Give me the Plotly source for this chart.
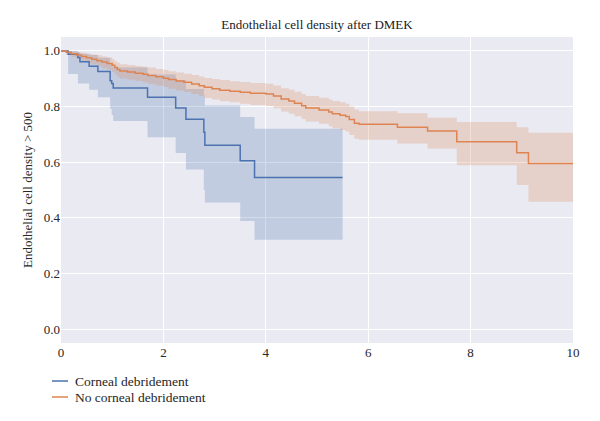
import plotly.graph_objects as go

# ---- data ----
times_b = [0.0, 0.14, 0.33, 0.37, 0.55, 0.72, 0.96, 0.99, 1.02, 1.69, 2.24, 2.44, 2.79, 2.81, 3.50, 3.78]
surv_b = [1.0, 0.988, 0.976, 0.961, 0.945, 0.926, 0.893, 0.883, 0.867, 0.833, 0.795, 0.754, 0.708, 0.661, 0.605, 0.545]
lower_b = [1.0, 0.917, 0.883, 0.883, 0.86, 0.833, 0.792, 0.77, 0.748, 0.69, 0.633, 0.574, 0.50, 0.455, 0.389, 0.321]
upper_b = [1.0, 1.0, 0.995, 0.99, 0.985, 0.975, 0.955, 0.95, 0.94, 0.915, 0.895, 0.863, 0.84, 0.804, 0.762, 0.72]
end_b = 5.5

times_o = [0.0, 0.1, 0.2, 0.3, 0.4, 0.5, 0.6, 0.7, 0.8, 0.9, 1.0, 1.05, 1.1, 1.15, 1.3, 1.45, 1.6, 1.7, 1.85,
           2.0, 2.1, 2.25, 2.4, 2.55, 2.7, 2.8, 2.95, 3.1, 3.3, 3.5, 3.7, 4.0, 4.15, 4.3, 4.45, 4.56, 4.7, 4.78,
           5.04, 5.23, 5.3, 5.45, 5.56, 5.63, 5.73, 5.82, 6.57, 7.16, 7.73, 8.9, 9.13]
surv_o = [1.0, 0.995, 0.99, 0.985, 0.98, 0.975, 0.97, 0.965, 0.96, 0.955, 0.948, 0.94, 0.933, 0.928, 0.924,
          0.92, 0.916, 0.912, 0.907, 0.902, 0.897, 0.892, 0.887, 0.881, 0.875, 0.869, 0.864, 0.859, 0.855,
          0.851, 0.848, 0.845, 0.838, 0.827, 0.82, 0.812, 0.803, 0.795, 0.788, 0.78, 0.774, 0.769, 0.764,
          0.753, 0.74, 0.736, 0.726, 0.712, 0.673, 0.634, 0.595]
upper_o = [1.0, 1.0, 0.998, 0.996, 0.993, 0.99, 0.987, 0.984, 0.98, 0.976, 0.97, 0.963, 0.957, 0.952, 0.949,
           0.946, 0.943, 0.94, 0.935, 0.931, 0.927, 0.922, 0.918, 0.913, 0.908, 0.903, 0.899, 0.895, 0.891,
           0.888, 0.885, 0.882, 0.876, 0.866, 0.86, 0.853, 0.845, 0.838, 0.832, 0.825, 0.82, 0.815, 0.81,
           0.8, 0.789, 0.783, 0.776, 0.76, 0.744, 0.726, 0.706]
lower_o = [1.0, 0.985, 0.978, 0.971, 0.964, 0.957, 0.951, 0.945, 0.938, 0.932, 0.924, 0.915, 0.907, 0.901,
           0.897, 0.892, 0.887, 0.882, 0.876, 0.87, 0.864, 0.858, 0.852, 0.845, 0.838, 0.831, 0.825, 0.819,
           0.815, 0.81, 0.806, 0.802, 0.794, 0.782, 0.774, 0.765, 0.755, 0.746, 0.738, 0.729, 0.722, 0.716,
           0.71, 0.698, 0.684, 0.681, 0.667, 0.649, 0.589, 0.518, 0.458]
end_o = 10.0

labels = ["Corneal debridement", "No corneal debridement"]
colors = ["#4C72B0", "#DD8452"]
fills = ["rgba(76,114,176,0.25)", "rgba(221,132,82,0.25)"]

x_ticks = [0, 2, 4, 6, 8, 10]
y_ticks = [0.0, 0.2, 0.4, 0.6, 0.8, 1.0]

FONT = "'Liberation Serif', 'Times New Roman', 'DejaVu Serif', serif"

fig = go.Figure()

series = [
    (times_b, surv_b, lower_b, upper_b, end_b),
    (times_o, surv_o, lower_o, upper_o, end_o),
]

for i, (t, s, lo, up, end) in enumerate(series):
    tx = list(t) + [end]
    fig.add_trace(go.Scatter(x=tx, y=list(lo) + [lo[-1]], mode="lines", line=dict(width=0, shape="hv"),
                             showlegend=False, hoverinfo="skip"))
    fig.add_trace(go.Scatter(x=tx, y=list(up) + [up[-1]], mode="lines", line=dict(width=0, shape="hv"),
                             fill="tonexty", fillcolor=fills[i], showlegend=False, hoverinfo="skip"))

for i, (t, s, lo, up, end) in enumerate(series):
    tx = list(t) + [end]
    fig.add_trace(go.Scatter(x=tx, y=list(s) + [s[-1]], mode="lines", name=labels[i],
                             line=dict(color=colors[i], width=1.5, shape="hv"), showlegend=False))

# manual legend (below the plot, left)
for i, lab in enumerate(labels):
    ypix = 381 + i * 16
    fig.add_shape(type="line", xref="paper", yref="paper",
                  x0=(52 - 61) / 512, x1=(68 - 61) / 512,
                  y0=(343 - ypix) / 306, y1=(343 - ypix) / 306,
                  line=dict(color=colors[i], width=1.5))
    fig.add_annotation(xref="paper", yref="paper", x=(73 - 61) / 512, y=(343 - ypix) / 306,
                       text=lab, showarrow=False, xanchor="left", yanchor="middle",
                       font=dict(family=FONT, size=13.5, color="#262626"))

fig.update_layout(
    width=600, height=421,
    margin=dict(l=61, r=27, t=37, b=78),
    paper_bgcolor="white",
    plot_bgcolor="#EAEAF2",
    font=dict(family=FONT, size=13, color="#262626"),
    title=dict(text="Endothelial cell density after DMEK", x=(61 + 573) / 2 / 600, xanchor="center",
               y=1 - 24 / 421, yanchor="middle", font=dict(family=FONT, size=13, color="#1a1a1a")),
    showlegend=False,
)
fig.update_xaxes(range=[0, 10], tickvals=x_ticks, ticktext=[str(v) for v in x_ticks],
                 showgrid=True, gridcolor="white", gridwidth=1.2, zeroline=False, showline=False,
                 ticks="", tickfont=dict(family=FONT, size=13, color="#262626"))
fig.update_yaxes(range=[-0.05, 1.05], tickvals=y_ticks, ticktext=[f"{v:.1f}" for v in y_ticks],
                 showgrid=True, gridcolor="white", gridwidth=1.2, zeroline=False, showline=False,
                 ticks="", tickfont=dict(family=FONT, size=13, color="#262626"),
                 title=dict(text="Endothelial cell density > 500", font=dict(family=FONT, size=13, color="#262626"),
                            standoff=8))

fig.write_html("out.html")
